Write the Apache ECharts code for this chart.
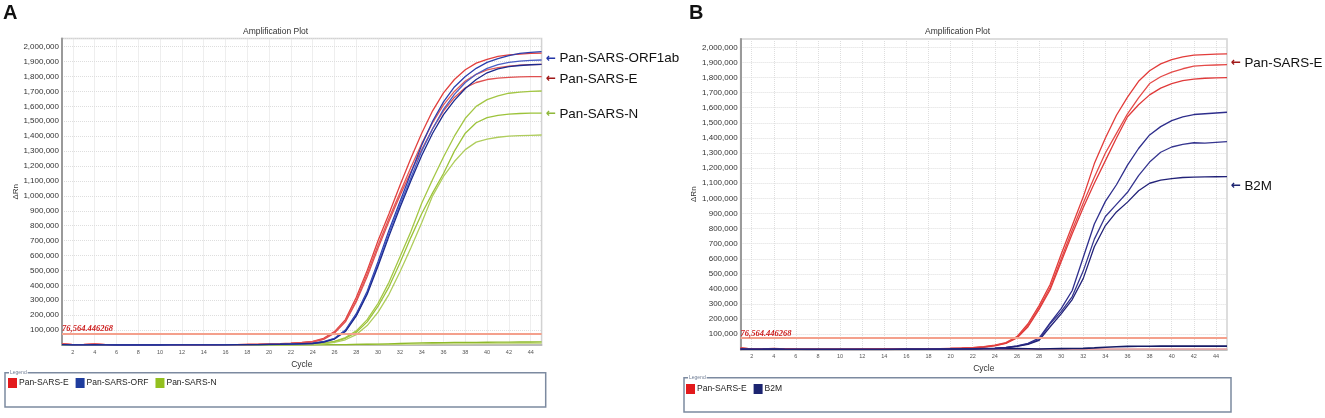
<!DOCTYPE html>
<html>
<head>
<meta charset="utf-8">
<script src="https://cdn.jsdelivr.net/npm/echarts@6.0.0/dist/echarts.min.js"></script>
<style>
  html, body { margin: 0; padding: 0; background: #fff; }
  #main { width: 1325px; height: 418px; }
</style>
</head>
<body>
<div id="main"></div>
<script>
// cycles on the x axis
const cycles = [1, 2, 3, 4, 5, 6, 7, 8, 9, 10, 11, 12, 13, 14, 15,
  16, 17, 18, 19, 20, 21, 22, 23, 24, 25, 26, 27, 28, 29, 30,
  31, 32, 33, 34, 35, 36, 37, 38, 39, 40, 41, 42, 43, 44, 45];

const threshold = 76564.446268;

// panel A - Pan-SARS-E (red)
const aE1 = [9000, 3000, 4000, 7000, 3000, 1000, 500, 0, 0, 500, 1000, 500, 1000, 1500, 1500,
  2000, 3000, 4000, 5000, 7000, 9000, 12000, 17000, 25000, 45000, 90000, 170000, 320000, 500000, 700000,
  880000, 1070000, 1250000, 1420000, 1570000, 1690000, 1780000, 1845000, 1890000, 1915000, 1935000, 1945000, 1950000, 1955000, 1957000];
const aE2 = [7000, 2000, 3000, 5000, 2000, 1000, 0, 0, 500, 500, 1000, 1000, 1000, 1500, 2000,
  2000, 3000, 3500, 4500, 6000, 8000, 11000, 15000, 22000, 40000, 85000, 160000, 300000, 480000, 670000,
  850000, 1020000, 1190000, 1350000, 1490000, 1610000, 1700000, 1770000, 1815000, 1845000, 1860000, 1870000, 1876000, 1880000, 1882000];
const aE3 = [8000, 2500, 3000, 6000, 2500, 500, 0, 0, 0, 500, 500, 1000, 1000, 1000, 1500,
  2000, 2500, 3500, 4500, 6000, 8000, 10000, 14000, 20000, 38000, 80000, 155000, 290000, 460000, 650000,
  830000, 1000000, 1160000, 1310000, 1450000, 1570000, 1660000, 1725000, 1760000, 1780000, 1790000, 1795000, 1798000, 1800000, 1800000];

// panel A - Pan-SARS-ORF (blue)
const aO1 = [3000, 1000, 1000, 2000, 1000, 0, 0, 0, 0, 0, 500, 500, 500, 1000, 1000,
  1500, 2000, 2500, 3000, 4000, 5000, 7000, 9000, 12000, 22000, 45000, 100000, 210000, 360000, 560000,
  770000, 960000, 1150000, 1340000, 1500000, 1630000, 1730000, 1800000, 1855000, 1895000, 1920000, 1940000, 1955000, 1962000, 1967000];
const aO2 = [2000, 1000, 1000, 1500, 500, 0, 0, 0, 0, 0, 0, 500, 500, 1000, 1000,
  1000, 1500, 2000, 3000, 3500, 4500, 6000, 8000, 10000, 20000, 42000, 95000, 200000, 350000, 545000,
  750000, 940000, 1120000, 1300000, 1450000, 1580000, 1680000, 1760000, 1815000, 1855000, 1880000, 1895000, 1903000, 1908000, 1911000];
const aO3 = [2500, 1000, 1500, 2000, 1000, 0, 0, 0, 0, 0, 500, 500, 1000, 1000, 1000,
  1500, 2000, 2500, 3000, 4000, 5000, 6500, 8500, 10000, 20000, 40000, 90000, 195000, 340000, 530000,
  730000, 920000, 1100000, 1270000, 1420000, 1545000, 1640000, 1720000, 1780000, 1825000, 1852000, 1866000, 1874000, 1879000, 1882000];

// panel A - Pan-SARS-N (green)
const aN1 = [1000, 500, 500, 1000, 500, 0, 0, 0, 0, 0, 0, 0, 500, 500, 500,
  1000, 1000, 1000, 1500, 2000, 2500, 3000, 4000, 5000, 12000, 25000, 50000, 95000, 170000, 280000,
  420000, 590000, 760000, 950000, 1110000, 1260000, 1400000, 1520000, 1600000, 1645000, 1670000, 1688000, 1696000, 1700000, 1703000];
const aN2 = [1000, 500, 500, 500, 0, 0, 0, 0, 0, 0, 0, 500, 500, 500, 500,
  1000, 1000, 1000, 1500, 2000, 2000, 3000, 3500, 4000, 10000, 22000, 45000, 85000, 155000, 260000,
  390000, 550000, 720000, 880000, 1020000, 1150000, 1300000, 1420000, 1490000, 1525000, 1540000, 1548000, 1552000, 1554000, 1555000];
const aN3 = [500, 0, 500, 500, 0, 0, 0, 0, 0, 0, 0, 0, 0, 500, 500,
  500, 1000, 1000, 1000, 1500, 2000, 2500, 3000, 3000, 8000, 18000, 35000, 70000, 130000, 220000,
  340000, 490000, 650000, 820000, 1000000, 1130000, 1230000, 1310000, 1360000, 1380000, 1393000, 1400000, 1404000, 1406000, 1408000];
// no-template controls
const aNeg1 = [2000, 1000, 1000, 2000, 1000, 0, 0, 0, 0, 0, 1000, 2000, 3000, 3000, 2000,
  1000, 1000, 1000, 1000, 1000, 1000, 1000, 1000, 1500, 2000, 2500, 3000, 4000, 5000, 6000,
  8000, 10000, 12000, 14000, 15000, 16000, 17000, 17500, 18000, 18500, 19000, 19500, 20000, 20000, 20500];
const aNeg2 = [1000, 0, 0, 1000, 0, 0, 0, 0, 0, 0, 500, 1000, 1500, 1500, 1000,
  500, 500, 500, 500, 500, 500, 500, 500, 1000, 1000, 1500, 2000, 2500, 3000, 3500,
  4000, 5000, 6000, 7000, 8000, 8500, 9000, 9500, 10000, 10500, 11000, 11000, 11500, 12000, 12000];

// panel B - Pan-SARS-E (red)
const bE1 = [10000, 4000, 3000, 6000, 3000, 1000, 0, 0, 0, 500, 500, 500, 1000, 1000, 1500,
  2000, 3000, 4000, 5000, 7000, 9000, 12000, 18000, 28000, 45000, 85000, 170000, 290000, 430000, 630000,
  820000, 1010000, 1230000, 1400000, 1550000, 1670000, 1775000, 1845000, 1890000, 1918000, 1937000, 1948000, 1952000, 1955000, 1956000];
const bE2 = [8000, 3000, 3000, 5000, 2000, 500, 0, 0, 0, 0, 500, 500, 1000, 1000, 1000,
  2000, 2500, 3500, 4500, 6000, 8000, 11000, 16000, 26000, 42000, 80000, 160000, 275000, 410000, 600000,
  790000, 970000, 1140000, 1300000, 1430000, 1560000, 1665000, 1760000, 1805000, 1836000, 1858000, 1875000, 1880000, 1883000, 1885000];
const bE3 = [9000, 3500, 2500, 5000, 2500, 500, 0, 0, 0, 500, 500, 1000, 1000, 1000, 1500,
  2000, 3000, 3500, 4500, 6000, 8000, 10000, 15000, 24000, 40000, 76000, 150000, 265000, 395000, 580000,
  765000, 940000, 1100000, 1250000, 1400000, 1540000, 1620000, 1685000, 1730000, 1760000, 1780000, 1790000, 1795000, 1798000, 1799000];

// panel B - B2M (navy)
const bB1 = [3000, 1000, 1000, 3000, 1000, 0, 0, 0, 0, 0, 0, 500, 500, 500, 1000,
  1000, 1500, 2000, 2500, 3000, 4000, 5000, 6500, 8000, 14000, 24000, 40000, 75000, 175000, 270000,
  390000, 610000, 830000, 980000, 1090000, 1220000, 1330000, 1420000, 1475000, 1515000, 1540000, 1555000, 1560000, 1565000, 1570000];
const bB2 = [2500, 1000, 1000, 2500, 500, 0, 0, 0, 0, 0, 0, 500, 500, 500, 500,
  1000, 1000, 1500, 2000, 2500, 3500, 4500, 5500, 7000, 12000, 22000, 36000, 65000, 170000, 250000,
  350000, 520000, 730000, 880000, 960000, 1040000, 1150000, 1240000, 1305000, 1340000, 1358000, 1368000, 1365000, 1370000, 1375000];
const bB3 = [2000, 500, 1000, 2000, 500, 0, 0, 0, 0, 0, 0, 0, 500, 500, 500,
  1000, 1000, 1500, 2000, 2500, 3000, 4000, 5000, 6000, 11000, 20000, 33000, 60000, 150000, 235000,
  330000, 470000, 680000, 820000, 910000, 975000, 1050000, 1100000, 1120000, 1130000, 1138000, 1140000, 1142000, 1143000, 1144000];
// no-template controls
const bNegB = [2000, 1000, 1000, 1500, 1000, 500, 0, 0, 0, 0, 0, 0, 0, 0, 500,
  1000, 1500, 2000, 2500, 3000, 3000, 3500, 4000, 4500, 5000, 5000, 4000, 3000, 4000, 5000,
  6000, 7000, 10000, 14000, 18000, 20000, 21000, 21000, 21500, 22000, 22000, 22000, 22000, 22000, 22000];
const bNegE = [3000, 1000, 1000, 2000, 1000, 0, 0, 0, 0, 0, 0, 0, 0, 0, 0,
  0, 500, 500, 1000, 1000, 1000, 1000, 1500, 1500, 1500, 2000, 2000, 2000, 2000, 2000,
  2000, 2000, 2000, 2500, 2500, 2500, 2500, 2500, 2500, 3000, 3000, 3000, 3000, 3000, 3000];

const RED = '#e31a1c', BLUE = '#1f3d9e', GREEN = '#93c01f', NAVY = '#1c2470';

function fmt(v) {
  return String(v).replace(/\B(?=(\d{3})+(?!\d))/g, ',');
}
const evenCycle = (i, v) => Number(v) % 2 === 0;

function curve(idx, name, data, color, width) {
  return {
    type: 'line', name: name, data: data,
    xAxisIndex: idx, yAxisIndex: idx,
    symbol: 'none', smooth: false, silent: true,
    lineStyle: { color: color, width: width || 1.3 },
    itemStyle: { color: color },
    emphasis: { disabled: true }
  };
}

function thresholdLine(s) {
  s.markLine = {
    silent: true, symbol: 'none', animation: false,
    data: [{ yAxis: threshold }],
    lineStyle: { color: '#f4a08c', width: 2, type: 'solid' },
    label: {
      position: 'insideStartTop', distance: 0,
      formatter: '76,564.446268',
      color: '#cc1b1b', fontFamily: 'Liberation Serif', fontStyle: 'italic',
      fontWeight: 'bold', fontSize: 8.5
    }
  };
  return s;
}

function xAx(idx) {
  return {
    type: 'category', gridIndex: idx, data: cycles, boundaryGap: false,
    name: 'Cycle', nameLocation: 'middle', nameGap: 15,
    nameTextStyle: { fontSize: 8.5, color: '#333', fontFamily: 'Liberation Sans' },
    axisLine: { lineStyle: { color: '#b0b0b0', width: 1.5 } },
    axisTick: { show: false },
    axisLabel: { interval: evenCycle, fontSize: 5.5, color: '#555', margin: 4, fontFamily: 'Liberation Sans' },
    splitLine: { show: true, interval: evenCycle, lineStyle: { color: '#dedede', type: 'dotted', width: 1 } }
  };
}

function yAx(idx) {
  return {
    type: 'value', gridIndex: idx, min: 0, max: 2055000, interval: 100000,
    name: 'ΔRn', nameLocation: 'middle', nameGap: 40, nameRotate: 90,
    nameTextStyle: { fontSize: 8, color: '#333', fontFamily: 'Liberation Sans' },
    axisLine: { show: true, lineStyle: { color: '#9a9a9a', width: 2 } },
    axisTick: { show: false },
    axisLabel: {
      showMinLabel: false, showMaxLabel: false, margin: 3,
      fontSize: 8, color: '#333', fontFamily: 'Liberation Sans',
      formatter: fmt
    },
    splitLine: { show: true, lineStyle: { color: '#dedede', type: 'dotted', width: 1 } }
  };
}

const seriesA = [
  thresholdLine(curve(0, 'Pan-SARS-N', aNeg2, '#c9dc8c', 1.6)),
  curve(0, 'Pan-SARS-N', aNeg1, '#8fba2a', 1.3),
  curve(0, 'Pan-SARS-N', aN1, '#a3c644'),
  curve(0, 'Pan-SARS-N', aN2, '#9cc33a'),
  curve(0, 'Pan-SARS-N', aN3, '#afcd5c'),
  curve(0, 'Pan-SARS-E', aE1, '#e2403e'),
  curve(0, 'Pan-SARS-E', aE2, '#e35a58'),
  curve(0, 'Pan-SARS-E', aE3, '#e05050'),
  curve(0, 'Pan-SARS-ORF', aO1, '#2b3fae'),
  curve(0, 'Pan-SARS-ORF', aO2, '#4a5ec4'),
  curve(0, 'Pan-SARS-ORF', aO3, '#1c2a8e')
];

const seriesB = [
  thresholdLine(curve(1, 'Pan-SARS-E', bNegE, '#e9a0a0', 1.6)),
  curve(1, 'B2M', bNegB, '#141a66', 1.6),
  curve(1, 'Pan-SARS-E', bE1, '#e23c3a'),
  curve(1, 'Pan-SARS-E', bE2, '#e44a48'),
  curve(1, 'Pan-SARS-E', bE3, '#e03a3a'),
  curve(1, 'B2M', bB1, '#2e2e8c'),
  curve(1, 'B2M', bB2, '#35358f'),
  curve(1, 'B2M', bB3, '#222278')
];

function note(x, y, arrowColor, label) {
  return {
    type: 'text', x: x, y: y, silent: true,
    style: {
      text: '{a|←} {t|' + label + '}',
      verticalAlign: 'middle',
      rich: {
        a: { fill: arrowColor, fontSize: 12, fontFamily: 'DejaVu Sans', fontWeight: 'bold' },
        t: { fill: '#111', fontSize: 13.4, fontFamily: 'Liberation Sans' }
      }
    }
  };
}

function legendBox(x, y, w, h) {
  return [
    { type: 'rect', silent: true, shape: { x: x, y: y, width: w, height: h },
      style: { fill: 'none', stroke: '#7c8aa0', lineWidth: 1.5 } },
    { type: 'text', silent: true, x: x + 4, y: y, z: 10,
      style: { text: 'Legend', fontSize: 5, fill: '#6f7d95', verticalAlign: 'middle',
        backgroundColor: '#fff', padding: [0, 1], fontFamily: 'Liberation Sans' } }
  ];
}

const chart = echarts.init(document.getElementById('main'), null, { renderer: 'canvas' });

chart.setOption({
  backgroundColor: '#fff',
  animation: false,
  title: [
    { text: 'A', left: 3, top: 3, padding: 0,
      textStyle: { fontSize: 20, fontWeight: 'bold', color: '#111', fontFamily: 'Liberation Sans' } },
    { text: 'B', left: 689, top: 3, padding: 0,
      textStyle: { fontSize: 20, fontWeight: 'bold', color: '#111', fontFamily: 'Liberation Sans' } },
    { text: 'Amplification Plot', left: 243, top: 27, padding: 0,
      textStyle: { fontSize: 8.5, fontWeight: 'normal', color: '#333', fontFamily: 'Liberation Sans' } },
    { text: 'Amplification Plot', left: 925, top: 27, padding: 0,
      textStyle: { fontSize: 8.5, fontWeight: 'normal', color: '#333', fontFamily: 'Liberation Sans' } }
  ],
  grid: [
    { left: 62, top: 38.5, width: 479.6, height: 306.5, show: true,
      borderColor: '#d2d2d2', borderWidth: 1.5, backgroundColor: '#fff' },
    { left: 740.6, top: 39, width: 486.4, height: 310.4, show: true,
      borderColor: '#d2d2d2', borderWidth: 1.5, backgroundColor: '#fff' }
  ],
  xAxis: [xAx(0), xAx(1)],
  yAxis: [yAx(0), yAx(1)],
  legend: [
    { left: 8, top: 378, padding: 0, icon: 'rect', itemWidth: 9, itemHeight: 10, itemGap: 7, selectedMode: false,
      textStyle: { fontSize: 8.5, color: '#222', fontFamily: 'Liberation Sans', padding: [0, 0, 0, -3] },
      data: [
        { name: 'Pan-SARS-E', itemStyle: { color: RED } },
        { name: 'Pan-SARS-ORF', itemStyle: { color: BLUE } },
        { name: 'Pan-SARS-N', itemStyle: { color: GREEN } }
      ] },
    { left: 686, top: 384, padding: 0, icon: 'rect', itemWidth: 9, itemHeight: 10, itemGap: 7, selectedMode: false,
      textStyle: { fontSize: 8.5, color: '#222', fontFamily: 'Liberation Sans', padding: [0, 0, 0, -3] },
      data: [
        { name: 'Pan-SARS-E', itemStyle: { color: RED } },
        { name: 'B2M', itemStyle: { color: NAVY } }
      ] }
  ],
  graphic: [
    note(546, 58.7, '#2336a8', 'Pan-SARS-ORF1ab'),
    note(546, 79, '#a01818', 'Pan-SARS-E'),
    note(546, 114, '#8fb83a', 'Pan-SARS-N'),
    note(1231, 63, '#a01818', 'Pan-SARS-E'),
    note(1231, 186, '#1c2470', 'B2M'),
    ...legendBox(5, 372.7, 540.7, 34.3),
    ...legendBox(684, 377.7, 547, 34.3)
  ],
  series: seriesA.concat(seriesB)
});
</script>
</body>
</html>
